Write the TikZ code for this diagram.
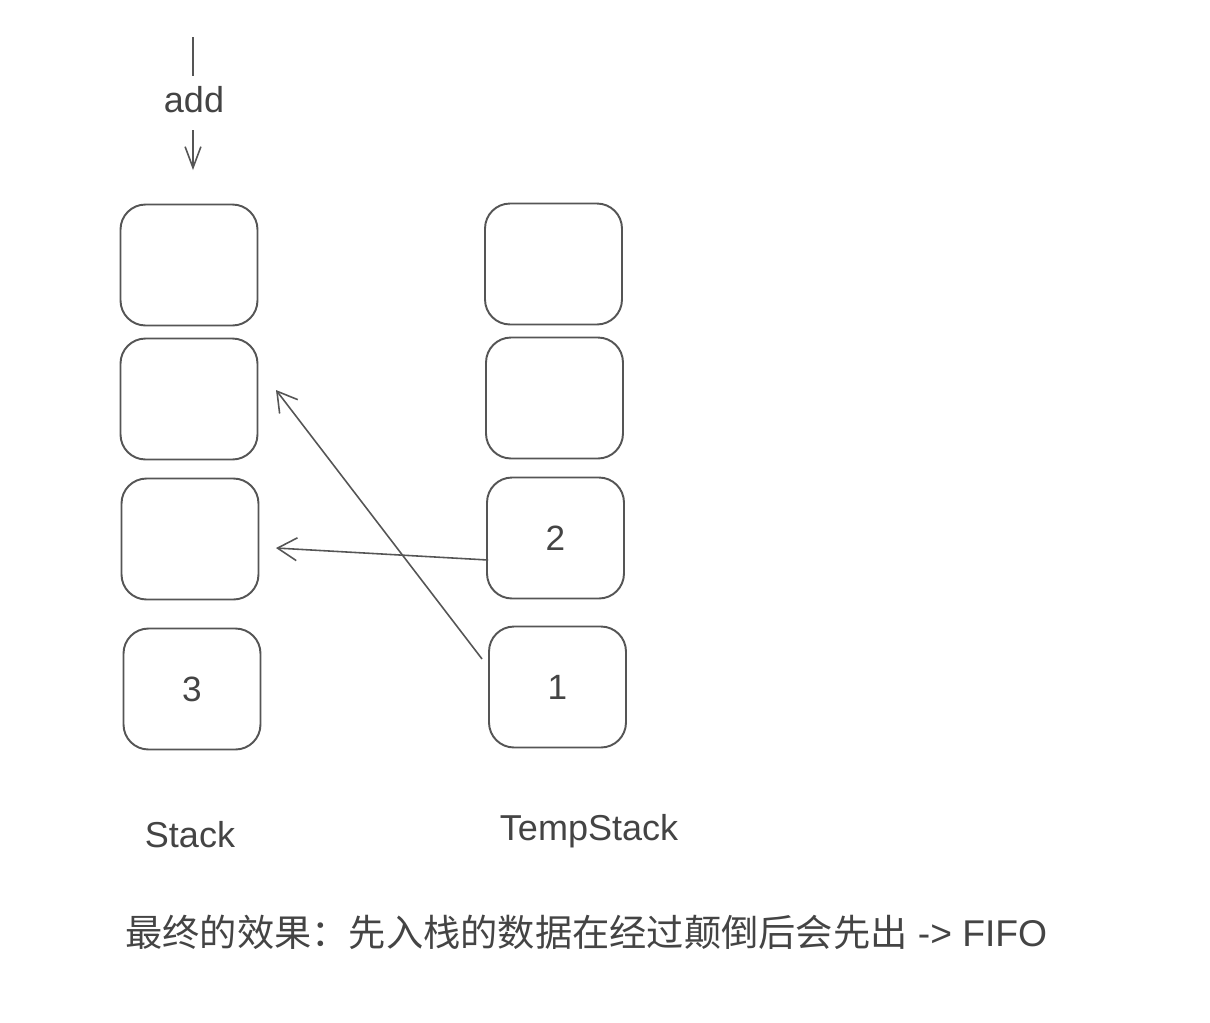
\documentclass[tikz,border=0pt]{standalone}
\usepackage{fontspec}
\setmainfont{Liberation Sans}
\newfontfamily\cjk{Noto Sans CJK SC}
\usetikzlibrary{arrows.meta}
\definecolor{ink}{HTML}{444444}
\definecolor{edge}{HTML}{555555}
\tikzset{
  cell/.style={draw=edge, line width=1.1pt, rounded corners=0.5cm, minimum width=2.74cm, minimum height=2.42cm, inner sep=0pt, text=ink, font=\fontsize{20}{24}\selectfont},
  lbl/.style={text=ink, font=\fontsize{20.5}{24}\selectfont, inner sep=0pt},
  conn/.style={draw=edge, line width=0.9pt, -{Straight Barb[length=11pt,width=13pt,line width=0.9pt]}},
}
\begin{document}
\begin{tikzpicture}[x=0.02cm,y=-0.02cm]
\useasboundingbox (0,0) rectangle (1210,1022);
% Stack column
\node[cell] (s1) at (189,265) {};
\node[cell] (s2) at (189,399) {};
\node[cell] (s3) at (190,539) {};
\node[cell] (s4) at (192,689) {3};
% TempStack column
\node[cell] (t1) at (553.5,264) {};
\node[cell] (t2) at (554.5,398) {};
\node[cell] (t3) at (555.5,538) {2};
\node[cell] (t4) at (557.5,687) {1};
% add arrow
\coordinate (a0) at (193,37);
\coordinate (a1) at (193,76);
\node[lbl] (add) at (194,100) {add};
\coordinate (a2) at (193,130);
\coordinate (a3) at (193,170);
\draw[draw=edge, line width=0.9pt] (a0) -- (a1);
\draw[draw=edge, line width=0.9pt, -{Straight Barb[length=12pt,width=9pt,line width=0.9pt]}] (a2) -- (a3);
% transfer arrows
\coordinate (e1) at (276,390);
\coordinate (e2) at (276,548);
\draw[conn] (t4.west) ++(-6,-28) -- (e1);
\draw[conn] (t3.west) ++(2,22) -- (e2);
% labels
\node[lbl] (ls) at (190,835) {Stack};
\node[lbl] (lt) at (589,831) {TempStack};
\node[lbl, anchor=west, font=\fontsize{21.2}{25}\selectfont] (cap) at (125,932) {{\cjk 最终的效果：先入栈的数据在经过颠倒后会先出} -> FIFO};
\end{tikzpicture}
\end{document}
